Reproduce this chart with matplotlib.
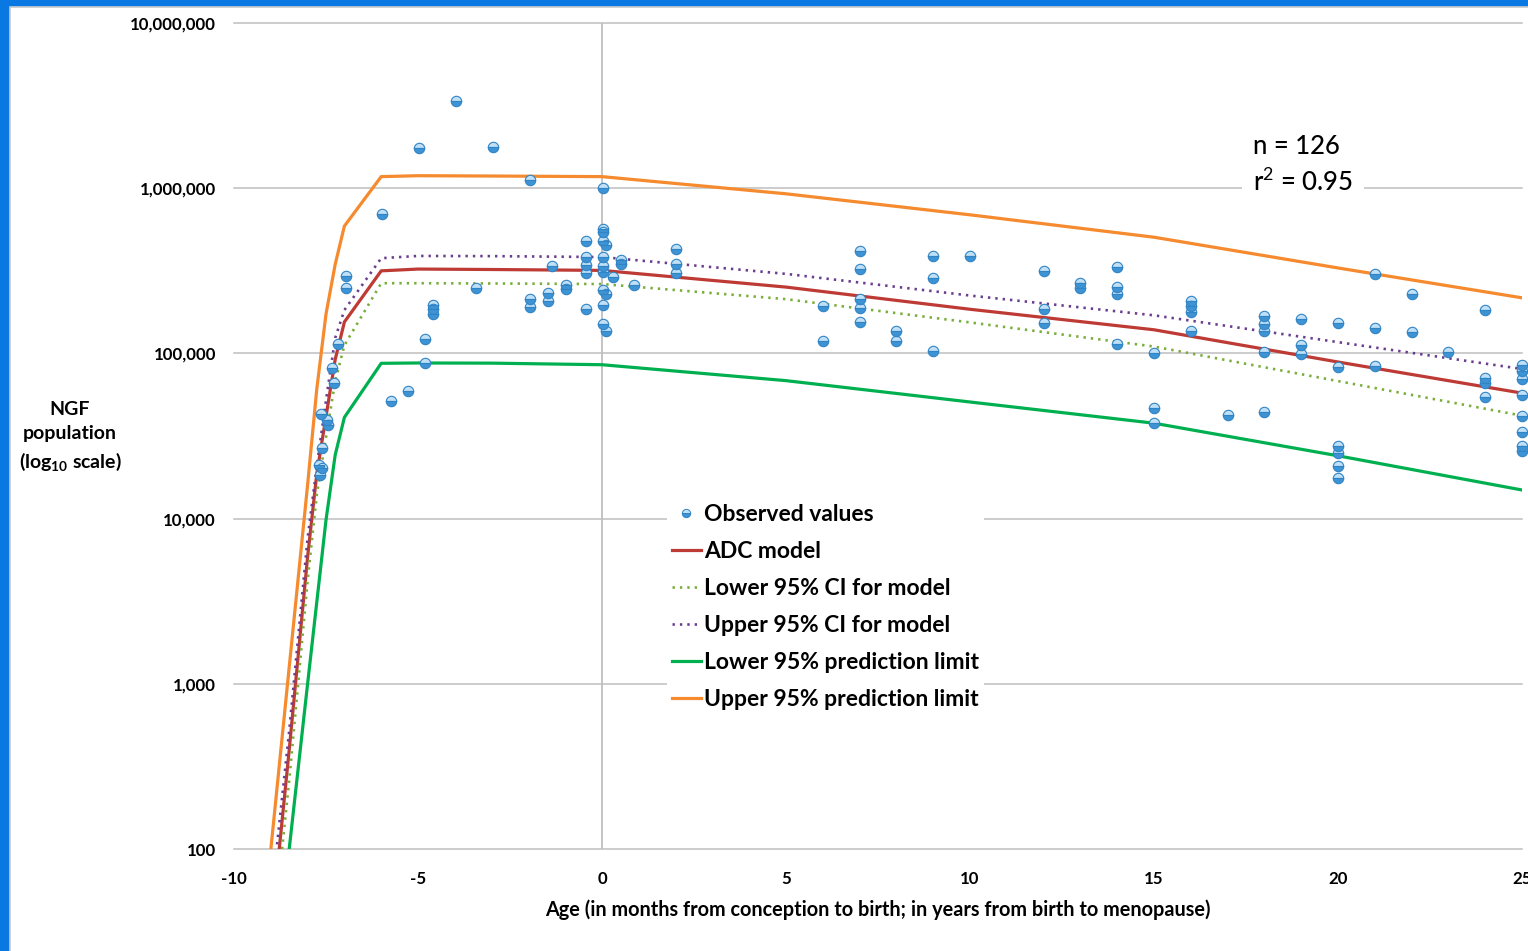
import matplotlib
matplotlib.use('Agg')
import matplotlib.pyplot as plt
import matplotlib.ticker as mticker
from matplotlib.patches import Rectangle
from matplotlib.lines import Line2D

# model curves (age: months before birth < 0, years after birth > 0)
curve_x = [-9, -8.5, -8, -7.75, -7.5, -7.25, -7, -6, -5, -3, 0, 5, 10, 15, 20, 25]
adc_model = [31, 397, 5860, 18700, 41500, 91900, 155000, 316000, 324000, 322000,
             318000, 252000, 185000, 139000, 88700, 57500]
lower_ci = [22, 260, 4200, 14000, 31000, 68000, 112000, 266000, 266000, 265000,
            263000, 213000, 154000, 110000, 68000, 42000]
upper_ci = [47, 518, 7600, 20800, 52000, 124000, 183000, 377000, 389000, 388000,
            383000, 303000, 224000, 170000, 117000, 80500]
lower_pl = [10, 100, 1000, 3130, 9800, 24300, 41000, 87100, 87500, 87300,
            85400, 68400, 50800, 37800, 24000, 14900]
upper_pl = [99, 1260, 16000, 61000, 173000, 346000, 590000, 1175000, 1190000, 1185000,
            1175000, 925000, 690000, 505000, 329000, 217000]

# observed values
obs_x = [-3.96, -4.96, -2.97, -1.96, 0.03, -5.98, -6.96, -6.96, -7.18, -7.34, -7.28,
         -7.64, -7.48, -7.45, -7.62, -7.68, -7.61, -7.65,
         -4.59, -4.59, -4.59, -4.82, -4.82, -5.27, -5.74, -3.42,
         -1.96, -1.96, -1.47, -1.47, -1.37, -0.98, -0.98,
         -0.44, -0.44, -0.44, -0.44, -0.44,
         0.03, 0.03, 0.03, 0.03, 0.03, 0.03, 0.03, 0.03, 0.03,
         0.12, 0.12, 0.12, 0.29, 0.52, 0.52, 0.87, 2.01, 2.01, 2.01,
         6, 6, 7, 7, 7, 7, 7, 8, 8, 9, 9, 9, 10, 12, 12, 12, 13, 13,
         14, 14, 14, 14, 15, 15, 15, 16, 16, 16, 16, 17, 18, 18, 18, 18, 18,
         19, 19, 19, 20, 20, 20, 20, 20, 20, 21, 21, 21, 22, 22, 23,
         24, 24, 24, 24, 25, 25, 25, 25, 25, 25, 25, 25]
obs_y = [3370000, 1760000, 1780000, 1120000, 998000, 698000, 294000, 249000, 114000, 81700, 66500,
         42800, 39500, 36900, 26700, 21100, 20200, 18300,
         196000, 185000, 173000, 123000, 87100, 58900, 51300, 249000,
         212000, 192000, 232000, 207000, 336000, 259000, 245000,
         477000, 385000, 341000, 305000, 185000,
         564000, 545000, 477000, 382000, 338000, 313000, 242000, 195000, 151000,
         453000, 229000, 137000, 289000, 367000, 347000, 261000, 427000, 347000, 306000,
         194000, 119000, 417000, 325000, 213000, 189000, 155000, 137000, 119000,
         387000, 287000, 104000, 387000, 314000, 186000, 152000, 265000, 248000,
         333000, 251000, 228000, 114000, 100000, 46400, 37800,
         208000, 194000, 179000, 136000, 42400, 168000, 151000, 137000, 102000, 44400,
         161000, 112000, 98800, 152000, 83000, 27600, 24800, 20800, 17700,
         301000, 142000, 83900, 229000, 135000, 102000,
         183000, 71300, 65900, 54700, 85100, 78600, 70300, 55700, 41800, 33600, 27500, 25800]

y_ticks = [100, 1000, 10000, 100000, 1000000, 10000000]
x_ticks = [-10, -5, 0, 5, 10, 15, 20, 25]

plt.rcParams['font.family'] = ['Lato', 'DejaVu Sans']
plt.rcParams['mathtext.fontset'] = 'custom'
plt.rcParams['mathtext.rm'] = 'Lato'
plt.rcParams['mathtext.bf'] = 'Lato:bold'

W, H = 1528, 951
fig = plt.figure(figsize=(W / 100, H / 100), dpi=100)
ax = fig.add_axes([234 / W, 1 - 849 / H, (1522 - 234) / W, (849 - 23) / H])

# slide frame
fig.patches.append(Rectangle((0, 0), 8 / W, 1, transform=fig.transFigure,
                             color='#0A78E2', zorder=10))
fig.patches.append(Rectangle((0, 1 - 5 / H), 1, 5 / H, transform=fig.transFigure,
                             color='#0A78E2', zorder=10))
fig.lines.append(Line2D([10 / W, 10 / W], [0, 1 - 7 / H], transform=fig.transFigure,
                        color='#C8C8C8', lw=1.2))
fig.lines.append(Line2D([10 / W, 1], [1 - 7 / H, 1 - 7 / H], transform=fig.transFigure,
                        color='#C8C8C8', lw=1.2))

ax.set_yscale('log')
ax.set_xlim(-10, 25)
ax.set_ylim(100, 10000000)
for v in y_ticks:
    ax.axhline(v, color='#BFBFBF', lw=1.1, zorder=0, clip_on=False)
ax.axvline(0, color='#BFBFBF', lw=1.3, zorder=0)

c_red = '#BE3A34'
c_orange = '#F58A2E'
c_green = '#00B050'
c_purple = '#6A3D8F'
c_lgreen = '#79AE3A'
dot = (0, (0.9, 1.9))

l_adc, = ax.plot(curve_x, adc_model, color=c_red, lw=2.3, zorder=2)
l_lci, = ax.plot(curve_x, lower_ci, color=c_lgreen, lw=1.9, ls=dot, zorder=2)
l_uci, = ax.plot(curve_x, upper_ci, color=c_purple, lw=1.9, ls=dot, zorder=2)
l_lpl, = ax.plot(curve_x, lower_pl, color=c_green, lw=2.3, zorder=2)
l_upl, = ax.plot(curve_x, upper_pl, color=c_orange, lw=2.3, zorder=2)

ax.plot(obs_x, obs_y, ls='none', marker='o', markersize=7.5, fillstyle='top',
        markerfacecolor='#BFE0F7', markerfacecoloralt='#3D93D4',
        markeredgecolor='#3184C4', markeredgewidth=0.8, zorder=3, clip_on=False)

obs_handle = Line2D([], [], ls='none', marker='o', markersize=6, fillstyle='top',
                    markerfacecolor='#BFE0F7', markerfacecoloralt='#3D93D4',
                    markeredgecolor='#3184C4', markeredgewidth=0.7)
leg = ax.legend([obs_handle, l_adc, l_lci, l_uci, l_lpl, l_upl],
                ['Observed values', 'ADC model', 'Lower 95% CI for model',
                 'Upper 95% CI for model', 'Lower 95% prediction limit',
                 'Upper 95% prediction limit'],
                loc='upper left', bbox_to_anchor=(667 / W, 1 - 499 / H),
                bbox_transform=fig.transFigure, frameon=True, fancybox=False,
                framealpha=1, edgecolor='none', facecolor='white',
                prop={'size': 16.5, 'weight': 'bold'}, handlelength=1.3,
                handletextpad=0.12, labelspacing=0.70, borderpad=0.2,
                borderaxespad=0)
leg.set_zorder(5)

ax.set_yticks(y_ticks)
ax.yaxis.set_minor_locator(mticker.NullLocator())
ax.set_yticklabels(['{:,}'.format(v) for v in y_ticks])
ax.set_xticks(x_ticks)
ax.set_xticklabels([str(v) for v in x_ticks])
for s in ax.spines.values():
    s.set_visible(False)
ax.tick_params(length=0, labelsize=12.2)
ax.tick_params(axis='y', pad=13)
ax.tick_params(axis='x', pad=16)
for t in ax.get_xticklabels() + ax.get_yticklabels():
    t.set_fontweight('bold')

ax.set_xlabel('Age (in months from conception to birth; in years from birth to menopause)',
              fontsize=14.3, fontweight='bold', labelpad=9)
fig.text(70 / W, 1 - 437 / H, 'NGF\npopulation\n(log$_{\\mathbf{10}}$ scale)', ha='center',
         va='center', fontsize=14, fontweight='bold', linespacing=1.5)

fig.text(1253 / W, 1 - 147 / H, 'n = 126', fontsize=18.5, va='center', ha='left',
         fontweight='medium')
fig.text(1253 / W, 1 - 182 / H, 'r$^{\\mathrm{2}}$ = 0.95', fontsize=18.5, va='center',
         ha='left', fontweight='medium',
         bbox=dict(facecolor='white', edgecolor='none', pad=8))

fig.savefig('out.png', dpi=100)
